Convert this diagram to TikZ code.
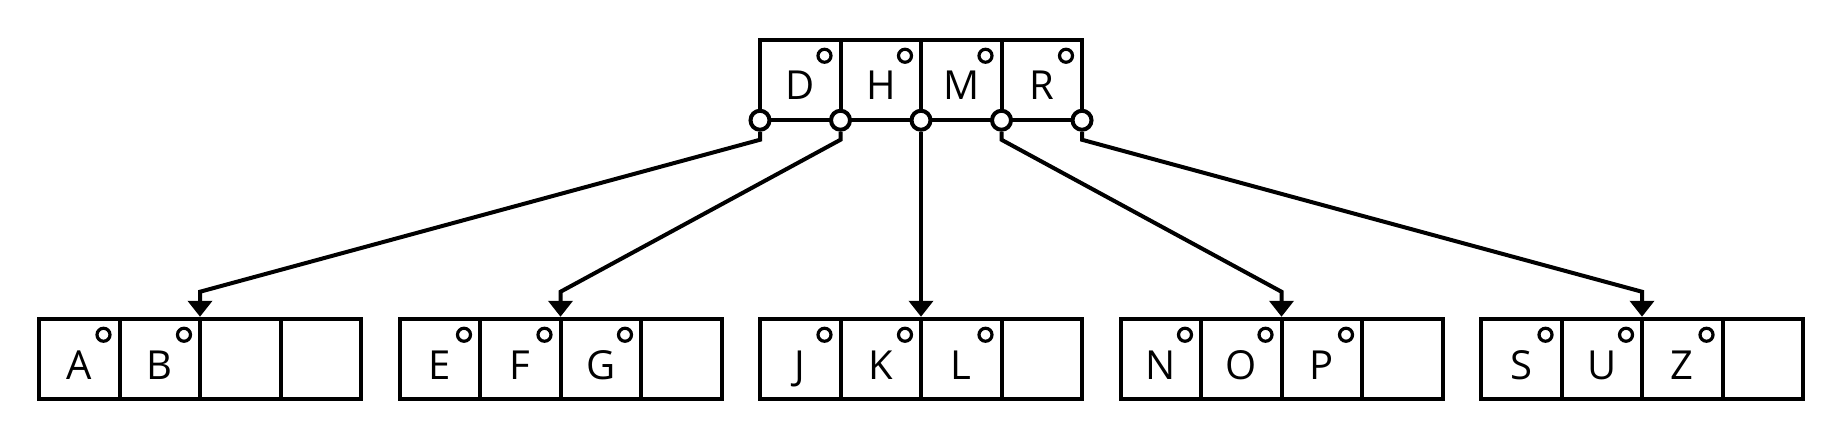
\documentclass[tikz,border=0pt]{standalone}
\usepackage{fontspec}
\setmainfont{Open Sans}
\usetikzlibrary{arrows.meta,positioning}

\begin{document}
\begin{tikzpicture}
  [
    x=0.5pt, y=0.5pt,
    cell/.style={draw, line width=2pt, minimum size=40.25pt, inner sep=0pt, outer sep=0pt,
      text height=20pt, text depth=0pt, font=\fontsize{20}{24}\selectfont},
    dot/.style={draw, circle, line width=1.6pt, minimum size=6.5pt, inner sep=0pt},
    ptr/.style={draw, circle, fill=white, line width=2pt, minimum size=9.5pt, inner sep=0pt},
    link/.style={line width=2pt, -{Triangle[width=12pt, length=8pt]}, shorten >=1pt}
  ]
  \useasboundingbox (0,0) rectangle (1840,440);
  % root
  \node [cell] at (800.25, 360) (t1) {D};
  \node [cell, right=0pt of t1] (t2) {H};
  \node [cell, right=0pt of t2] (t3) {M};
  \node [cell, right=0pt of t3] (t4) {R};
  % leaves
  \foreach \lft/\ka/\kb/\kc [count=\n from 0] in {39/A/B/{}, 399.5/E/F/G, 760/J/K/L, 1120.5/N/O/P, 1481/S/U/Z}{
    \node [cell] at (\lft+40.25, 81) (b\n1) {\ka};
    \node [cell, right=0pt of b\n1] (b\n2) {\kb};
    \node [cell, right=0pt of b\n2] (b\n3) {\kc};
    \node [cell, right=0pt of b\n3] (b\n4) {};
  }
  % key marks
  \foreach \c in {t1,t2,t3,t4,b01,b02,b11,b12,b13,b21,b22,b23,b31,b32,b33,b41,b42,b43}
    \node [dot] (\c o) at ([shift={(-16,-16)}]\c.north east) {};
  % child pointers
  \node [ptr] (p0) at (t1.south west) {};
  \foreach \i in {1,...,4}
    \node [ptr] (p\i) at (t\i.south east) {};
  \foreach \i in {0,1,3,4}{
    \draw [link] (p\i.south) -- ++(0,-8) -- ([shift={(0,27)}]b\i2.north east) -- (b\i2.north east);
  }
  \draw [link] (p2.south) -- (b22.north east);

\end{tikzpicture}
\end{document}
